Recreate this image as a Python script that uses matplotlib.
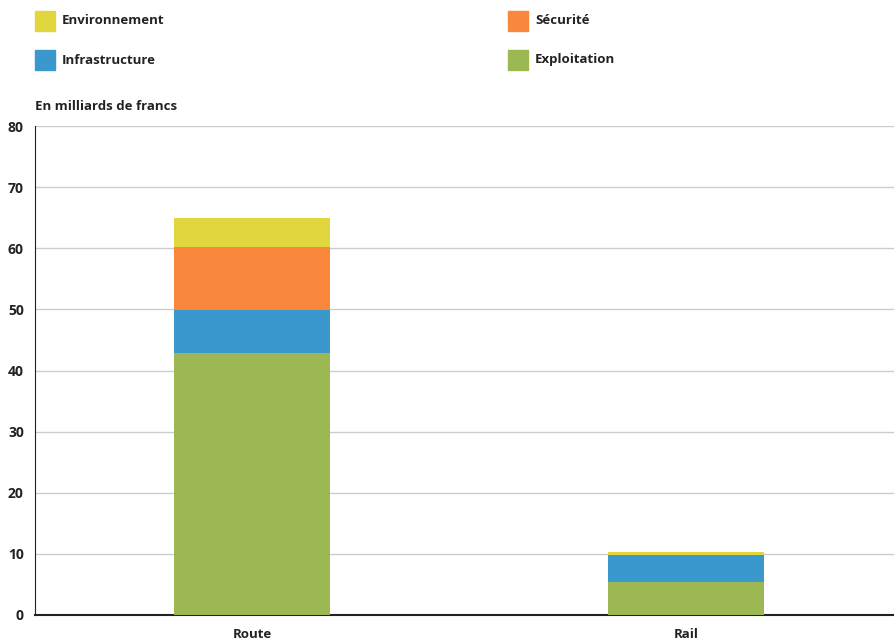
import matplotlib.pyplot as plt
from matplotlib.patches import Rectangle

plt.rcParams['font.family'] = ['Open Sans', 'DejaVu Sans']

categories = ['Route', 'Rail']
series = ['Exploitation', 'Infrastructure', 'Sécurité', 'Environnement']
exploitation = [42.9, 5.4]
infrastructure = [7.0, 4.4]
securite = [10.3, 0.0]
environnement = [4.8, 0.5]
values = [exploitation, infrastructure, securite, environnement]
colors = ['#9cb853', '#3a98cd', '#f9873c', '#e1d63e']
yticks = [0, 10, 20, 30, 40, 50, 60, 70, 80]

fig = plt.figure(figsize=(8.94, 6.44), dpi=100)
ax = fig.add_axes([35 / 894, 29 / 644, 1 - 35 / 894, 489 / 644])

x = range(len(categories))
bottom = [0.0] * len(categories)
for vals, col in zip(values, colors):
    ax.bar(x, vals, width=0.36, bottom=bottom, color=col, zorder=3)
    bottom = [b + v for b, v in zip(bottom, vals)]

ax.set_xlim(-0.5, 1.48)
ax.set_ylim(0, 80)
ax.set_yticks(yticks)
ax.set_xticks(list(x))
ax.set_xticklabels(categories, fontweight='bold', fontsize=9.5, color='#222222')
ax.set_yticklabels([str(t) for t in yticks], fontweight='bold', fontsize=10, color='#222222')
ax.tick_params(length=0)
ax.tick_params(axis='y', pad=8)
ax.tick_params(axis='x', pad=9)
ax.grid(axis='y', color='#cccccc', linewidth=1, zorder=0)
for s in ['top', 'right']:
    ax.spines[s].set_visible(False)
ax.spines['left'].set_color('#222222')
ax.spines['bottom'].set_color('#222222')
ax.spines['bottom'].set_linewidth(1.5)

fig.text(35 / 894, 1 - 107 / 644, 'En milliards de francs', fontweight='bold',
         fontsize=9.5, color='#222222', va='center', ha='left')

# legend, laid out in two columns
legend_items = [('Environnement', '#e1d63e', 35, 21), ('Sécurité', '#f9873c', 508, 21),
                ('Infrastructure', '#3a98cd', 35, 60), ('Exploitation', '#9cb853', 508, 60)]
for label, col, lx, ly in legend_items:
    fig.patches.append(Rectangle((lx / 894, 1 - (ly + 10) / 644), 20 / 894, 20 / 644,
                                 transform=fig.transFigure, color=col))
    fig.text((lx + 27) / 894, 1 - ly / 644, label, fontweight='bold', fontsize=9.5,
             color='#222222', va='center', ha='left')

fig.savefig('out.png', dpi=100)
